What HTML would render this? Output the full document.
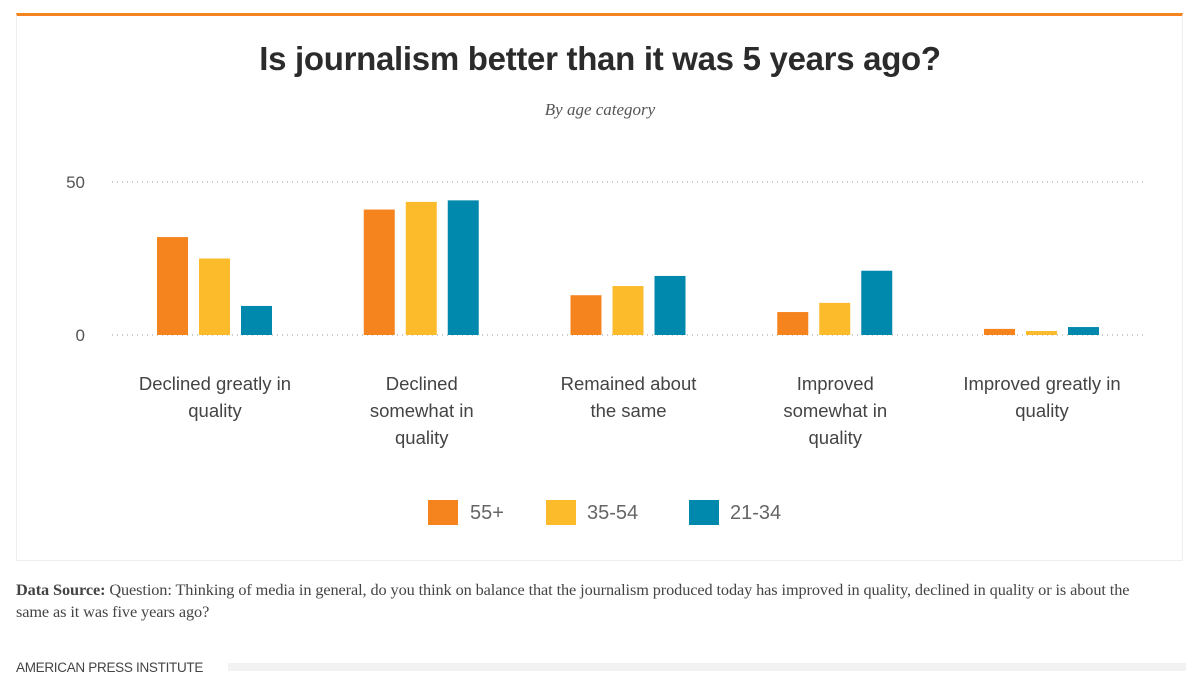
<!DOCTYPE html>
<html><head><meta charset="utf-8"><style>
body{margin:0;width:1200px;height:687px;background:#fff;overflow:hidden;font-family:"Liberation Sans",sans-serif;position:relative}
.abs{position:absolute}
</style></head><body>
<div class="abs" style="left:16px;top:13px;width:1167px;height:548px;border:1px solid #eee;border-top:3px solid #f5841f;box-sizing:border-box"></div>
<div class="abs" style="left:0;width:1200px;top:40px;text-align:center;font-size:33px;font-weight:bold;color:#2b2b2b;letter-spacing:-0.3px">Is journalism better than it was 5 years ago?</div>
<div class="abs" style="left:0;width:1200px;top:100px;text-align:center;font-family:'Liberation Serif',serif;font-style:italic;font-size:17px;color:#555">By age category</div>
<svg class="abs" style="left:0;top:0" width="1200" height="560" id="chart"></svg>
<div class="abs" style="left:0;top:0">
 <div class="abs" style="left:428px;top:500px;width:200px"><span class="abs" style="left:0;top:0;width:30px;height:25px;background:#f5841f"></span><span class="abs" style="left:42px;top:2px;font-size:20px;color:#666">55+</span></div>
 <div class="abs" style="left:546px;top:500px;width:200px"><span class="abs" style="left:0;top:0;width:30px;height:25px;background:#fbbb2b"></span><span class="abs" style="left:41px;top:2px;font-size:20px;color:#666">35-54</span></div>
 <div class="abs" style="left:689px;top:500px;width:200px"><span class="abs" style="left:0;top:0;width:30px;height:25px;background:#0089ad"></span><span class="abs" style="left:41px;top:2px;font-size:20px;color:#666">21-34</span></div>
</div>
<div class="abs" style="left:16px;top:579px;width:1170px;font-family:'Liberation Serif',serif;font-size:16.3px;line-height:22px;color:#444;white-space:nowrap;letter-spacing:-0.1px"><b>Data Source:</b> Question: Thinking of media in general, do you think on balance that the journalism produced today has improved in quality, declined in quality or is about the<br>same as it was five years ago?</div>
<div class="abs" style="left:16px;top:660px;font-size:13.5px;color:#444;letter-spacing:-0.3px">AMERICAN PRESS INSTITUTE</div>
<div class="abs" style="left:228px;top:663px;width:958px;height:8px;background:#f2f2f2"></div>
<script>
const categories=[["Declined greatly in","quality"],["Declined","somewhat in","quality"],["Remained about","the same"],["Improved","somewhat in","quality"],["Improved greatly in","quality"]];
const seriesNames=["55+","35-54","21-34"];
const s55=[32,41,13,7.5,2];
const s35=[25,43.5,16,10.5,1.3];
const s21=[9.5,44,19.3,21,2.6];
const yTicks=[0,50];
const colors=["#f5841f","#fbbb2b","#0089ad"];
const svg=document.getElementById('chart');
const NS='http://www.w3.org/2000/svg';
const y=v=>335-v*3.06;
const cx=i=>215+i*206.75;
function mk(t,a){const e=document.createElementNS(NS,t);for(const k in a)e.setAttribute(k,a[k]);svg.appendChild(e);return e;}
yTicks.forEach(t=>{
 const l=mk('line',{x1:112,x2:1146,y1:y(t),y2:y(t),stroke:'#999','stroke-width':1,'stroke-dasharray':'1 4'});
 
 
 const tx=mk('text',{x:85,y:y(t)+6,'text-anchor':'end','font-size':17,fill:'#555','font-family':'Liberation Sans, sans-serif'});
 tx.textContent=t;
 
 
});
[s55,s35,s21].forEach((s,si)=>{
 s.forEach((v,i)=>{
  const r=mk('rect',{x:cx(i)-58+si*42,y:y(v),width:31,height:335-y(v),fill:colors[si]});
  
  
 });
});
categories.forEach((c,i)=>{
 c.forEach((line,j)=>{
  const t=mk('text',{x:cx(i),y:390+j*27,'text-anchor':'middle','font-size':18.5,fill:'#444','font-family':'Liberation Sans, sans-serif'});
  t.textContent=line;
  
  
 });
});
</script>
</body></html>
